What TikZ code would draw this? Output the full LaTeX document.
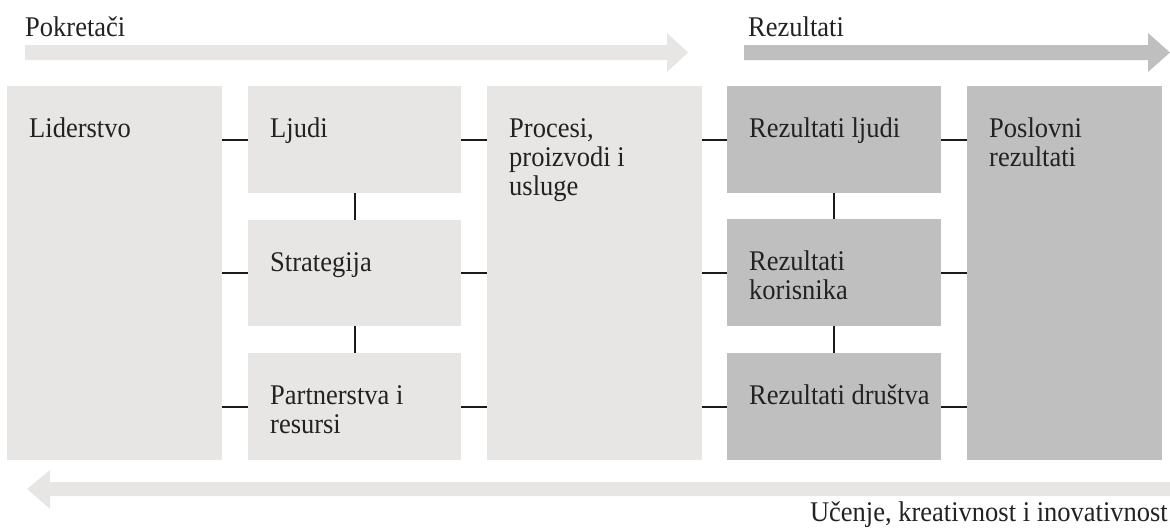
\documentclass[tikz,border=0pt]{standalone}
\usepackage{fontspec}
\setmainfont[FakeStretch=0.93]{Liberation Serif}
\usetikzlibrary{calc}
\definecolor{lightbox}{HTML}{E7E6E5}
\definecolor{darkbox}{HTML}{BFBFBF}
\definecolor{inkline}{HTML}{1A1A1A}
\definecolor{inktext}{HTML}{222222}
\begin{document}
\begin{tikzpicture}[x=1pt,y=-1pt,
  lbox/.style={rectangle,fill=lightbox,draw=none,inner sep=0,anchor=north west},
  dbox/.style={rectangle,fill=darkbox,draw=none,inner sep=0,anchor=north west},
  lbl/.style={anchor=north west,inner sep=0,align=left,text=inktext,
    font=\fontsize{28.5}{29}\selectfont},
  ttl/.style={inner sep=0,text=inktext,font=\fontsize{28.5}{29}\selectfont},
  link/.style={draw=inkline,line width=2pt},
  larrow/.style={fill=lightbox,draw=none},
  darrow/.style={fill=darkbox,draw=none}]
\useasboundingbox (0,0) rectangle (1170,528);

% top arrows
\fill[larrow] (25,45) -- (667,45) -- (667,33) -- (688,52.5) -- (667,72) -- (667,60) -- (25,60) -- cycle;
\fill[darrow] (744,45) -- (1148,45) -- (1148,33) -- (1170,52.5) -- (1148,72) -- (1148,60) -- (744,60) -- cycle;
\node[ttl,anchor=base west] (tpok) at (25,36) {Pokretači};
\node[ttl,anchor=base west] (trez) at (748,36) {Rezultati};

% bottom arrow
\fill[larrow] (1170,482) -- (50,482) -- (50,470) -- (27,489) -- (50,509) -- (50,496) -- (1170,496) -- cycle;
\node[ttl,anchor=base east] (tuce) at (1168,521) {Učenje, kreativnost i inovativnost};

% boxes
\node[lbox,minimum width=215,minimum height=374] (lid) at (7,86) {};
\node[lbox,minimum width=213,minimum height=107] (lju) at (248,86) {};
\node[lbox,minimum width=213,minimum height=106] (str) at (248,220) {};
\node[lbox,minimum width=213,minimum height=107] (par) at (248,353) {};
\node[lbox,minimum width=215,minimum height=374] (pro) at (487,86) {};
\node[dbox,minimum width=214,minimum height=107] (rlj) at (727,86) {};
\node[dbox,minimum width=214,minimum height=107] (rko) at (727,219) {};
\node[dbox,minimum width=214,minimum height=107] (rdr) at (727,353) {};
\node[dbox,minimum width=195,minimum height=374] (pos) at (967,86) {};

% labels
\node[lbl] (llid) at ($(lid.north west)+(22,31.5)$) {\vphantom{Ld}Liderstvo};
\node[lbl] (llju) at ($(lju.north west)+(22,31.5)$) {\vphantom{Ld}Ljudi};
\node[lbl] (lstr) at ($(str.north west)+(22,31.5)$) {\vphantom{Ld}Strategija};
\node[lbl] (lpar) at ($(par.north west)+(22,31.5)$) {\vphantom{Ld}Partnerstva i\\resursi};
\node[lbl] (lpro) at ($(pro.north west)+(22,31.5)$) {\vphantom{Ld}Procesi,\\proizvodi i\\usluge};
\node[lbl] (lrlj) at ($(rlj.north west)+(22,31.5)$) {\vphantom{Ld}Rezultati ljudi};
\node[lbl] (lrko) at ($(rko.north west)+(22,31.5)$) {\vphantom{Ld}Rezultati\\korisnika};
\node[lbl] (lrdr) at ($(rdr.north west)+(22,31.5)$) {\vphantom{Ld}Rezultati društva};
\node[lbl] (lpos) at ($(pos.north west)+(22,31.5)$) {\vphantom{Ld}Poslovni\\rezultati};

% connectors
\foreach \b in {lju,str,par}{
  \draw[link] (\b.west -| lid.east) -- (\b.west);
  \draw[link] (\b.east) -- (\b.east -| pro.west);
}
\foreach \b in {rlj,rko,rdr}{
  \draw[link] (\b.west -| pro.east) -- (\b.west);
  \draw[link] (\b.east) -- (\b.east -| pos.west);
}
\draw[link] (lju.south) -- (str.north);
\draw[link] (str.south) -- (par.north);
\draw[link] (rlj.south) -- (rko.north);
\draw[link] (rko.south) -- (rdr.north);
\end{tikzpicture}
\end{document}
